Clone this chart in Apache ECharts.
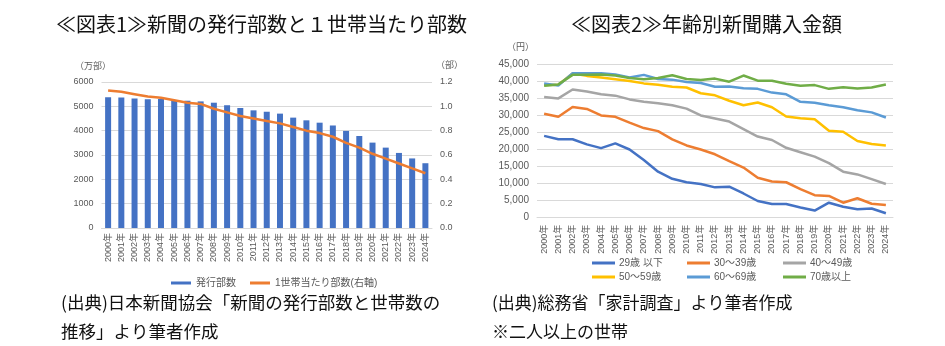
<!DOCTYPE html>
<html>
<head>
<meta charset="utf-8">
<script src="https://cdn.jsdelivr.net/npm/echarts@6/dist/echarts.min.js"></script>
<style>
html,body{margin:0;padding:0;background:#fff;}
#c{width:945px;height:346px;}
</style>
</head>
<body>
<div id="c"></div>
<script>
var years = ['2000年','2001年','2002年','2003年','2004年','2005年','2006年','2007年','2008年','2009年','2010年','2011年','2012年','2013年','2014年','2015年','2016年','2017年','2018年','2019年','2020年','2021年','2022年','2023年','2024年'];

// Chart 1
var circulation = [5371,5368,5320,5287,5302,5257,5231,5203,5149,5045,4932,4835,4778,4700,4536,4425,4328,4213,3990,3781,3509,3303,3085,2859,2662];
var perHousehold = [1.13,1.12,1.10,1.08,1.07,1.05,1.03,1.02,0.98,0.95,0.92,0.90,0.88,0.86,0.83,0.80,0.78,0.75,0.70,0.66,0.61,0.57,0.53,0.49,0.45];
var leftTicks = [0,1000,2000,3000,4000,5000,6000];
var rightTicks = ['0.0','0.2','0.4','0.6','0.8','1.0','1.2'];

// Chart 2
var age29 = [24000,23000,23000,21500,20400,21800,20000,16900,13500,11400,10400,9900,8900,9100,7100,4900,4000,4000,3000,2100,4400,3200,2500,2700,1300];
var age30 = [30500,29600,32500,31900,30000,29600,27900,26300,25400,23000,21200,20000,18600,16600,14700,11700,10600,10400,8400,6600,6400,4400,5700,4100,3700];
var age40 = [35400,35000,37600,37000,36200,35800,34700,34000,33600,33000,32000,30000,29100,28200,26000,23800,22800,20500,19200,17900,16000,13500,12700,11300,9900];
var age50 = [38900,39000,42300,41600,41100,40600,40100,39400,39000,38400,38200,36500,35900,34300,33000,33800,32400,29700,29200,28900,25500,25200,22500,21600,21200];
var age60 = [39400,38800,42400,42400,42400,42000,41100,41900,40700,40500,39800,39500,38400,38500,38000,37800,36700,36200,34000,33700,33000,32400,31500,30900,29400];
var age70 = [38700,39100,41900,41900,42000,41700,41000,40600,41000,41800,40700,40400,40800,39900,41700,40200,40200,39300,38700,38900,37800,38300,37900,38200,39100];
var seriesNames2 = ['29歳 以下','30～39歳','40～49歳','50～59歳','60～69歳','70歳以上'];

var numFont = 'Liberation Sans, Arial, "Noto Sans CJK JP", sans-serif';
var jpFont = '"Noto Sans CJK JP", sans-serif';
var labelColor = '#595959';
var gridColor = '#D9D9D9';

var chart = echarts.init(document.getElementById('c'), null, {renderer:'canvas'});

function lineSeries(name, data, color) {
  return {
    name: name, type: 'line', xAxisIndex: 1, yAxisIndex: 2, data: data,
    symbol: 'none', smooth: false,
    lineStyle: {color: color, width: 2.5},
    itemStyle: {color: color}
  };
}

var legendBase = {
  icon: 'rect', itemWidth: 23, itemHeight: 3, orient: 'vertical', itemGap: 2,
  selectedMode: false,
  textStyle: {fontFamily: numFont, fontSize: 10, color: labelColor, lineHeight: 12, padding: [0,0,0,-1]}
};

var option = {
  animation: false,
  backgroundColor: '#fff',
  grid: [
    {left: 101.5, top: 82, width: 330.5, height: 146},
    {left: 537, top: 64.3, width: 356, height: 153.4}
  ],
  xAxis: [
    {type: 'category', gridIndex: 0, data: years,
     axisLine: {lineStyle: {color: gridColor}}, axisTick: {show: false},
     axisLabel: {rotate: 90, interval: 0, fontSize: 9, color: labelColor, fontFamily: numFont, margin: 5}},
    {type: 'category', gridIndex: 1, data: years,
     axisLine: {lineStyle: {color: gridColor}}, axisTick: {show: false},
     axisLabel: {rotate: 90, interval: 0, fontSize: 9, color: labelColor, fontFamily: numFont, margin: 7}}
  ],
  yAxis: [
    {type: 'value', gridIndex: 0, min: leftTicks[0], max: leftTicks[leftTicks.length-1], interval: 1000,
     axisLine: {show: false}, axisTick: {show: false},
     splitLine: {lineStyle: {color: gridColor}},
     axisLabel: {fontSize: 9, color: labelColor, fontFamily: numFont, margin: 8,
       formatter: function(v){ return String(leftTicks[Math.round(v/1000)]); }}},
    {type: 'value', gridIndex: 0, position: 'right', min: 0, max: 1.2, interval: 0.2,
     axisLine: {show: false}, axisTick: {show: false}, splitLine: {show: false},
     axisLabel: {fontSize: 9, color: labelColor, fontFamily: numFont, margin: 8,
       formatter: function(v){ return rightTicks[Math.round(v/0.2)]; }}},
    {type: 'value', gridIndex: 1, min: 0, max: 45000, interval: 5000,
     axisLine: {show: false}, axisTick: {show: false},
     splitLine: {lineStyle: {color: gridColor}},
     axisLabel: {fontSize: 10, color: labelColor, fontFamily: numFont, margin: 8,
       formatter: function(v){ return v.toLocaleString('en-US'); }}}
  ],
  legend: [
    {data: ['発行部数','1世帯当たり部数(右軸)'], left: 166, top: 273, icon: 'rect', itemWidth: 20, itemHeight: 3, itemGap: 14,
     selectedMode: false,
     textStyle: {fontFamily: numFont, fontSize: 10, color: labelColor}},
    Object.assign({}, legendBase, {data: [seriesNames2[0], seriesNames2[3]], left: 587, top: 252}),
    Object.assign({}, legendBase, {data: [seriesNames2[1], seriesNames2[4]], left: 682, top: 252}),
    Object.assign({}, legendBase, {data: [seriesNames2[2], seriesNames2[5]], left: 778, top: 252})
  ],
  series: [
    {name: '発行部数', type: 'bar', xAxisIndex: 0, yAxisIndex: 0, data: circulation,
     barWidth: 6, itemStyle: {color: '#4472C4'}},
    {name: '1世帯当たり部数(右軸)', type: 'line', xAxisIndex: 0, yAxisIndex: 1, data: perHousehold,
     symbol: 'none', smooth: false, lineStyle: {color: '#ED7D31', width: 2.5}, itemStyle: {color: '#ED7D31'}},
    lineSeries(seriesNames2[0], age29, '#4472C4'),
    lineSeries(seriesNames2[1], age30, '#ED7D31'),
    lineSeries(seriesNames2[2], age40, '#A5A5A5'),
    lineSeries(seriesNames2[3], age50, '#FFC000'),
    lineSeries(seriesNames2[4], age60, '#5B9BD5'),
    lineSeries(seriesNames2[5], age70, '#70AD47')
  ],
  graphic: [
    {type: 'text', left: 56, top: 14, style: {text: '≪図表1≫新聞の発行部数と１世帯当たり部数', font: '20px ' + jpFont, fill: '#111'}},
    {type: 'text', left: 571, top: 14, style: {text: '≪図表2≫年齢別新聞購入金額', font: '20px ' + jpFont, fill: '#111'}},
    {type: 'text', left: 75, top: 61, style: {text: '（万部）', font: '9px ' + jpFont, fill: labelColor}},
    {type: 'text', left: 436, top: 60, style: {text: '（部）', font: '9px ' + jpFont, fill: labelColor}},
    {type: 'text', left: 507, top: 42, style: {text: '（円）', font: '9px ' + jpFont, fill: labelColor}},
    {type: 'text', left: 61, top: 294, style: {text: '(出典)日本新聞協会「新聞の発行部数と世帯数の', font: '17.5px ' + jpFont, fill: '#111'}},
    {type: 'text', left: 61, top: 323, style: {text: '推移」より筆者作成', font: '17.5px ' + jpFont, fill: '#111'}},
    {type: 'text', left: 492, top: 294, style: {text: '(出典)総務省「家計調査」より筆者作成', font: '17px ' + jpFont, fill: '#111'}},
    {type: 'text', left: 492, top: 323, style: {text: '※二人以上の世帯', font: '17px ' + jpFont, fill: '#111'}}
  ]
};
chart.setOption(option);
</script>
</body>
</html>
